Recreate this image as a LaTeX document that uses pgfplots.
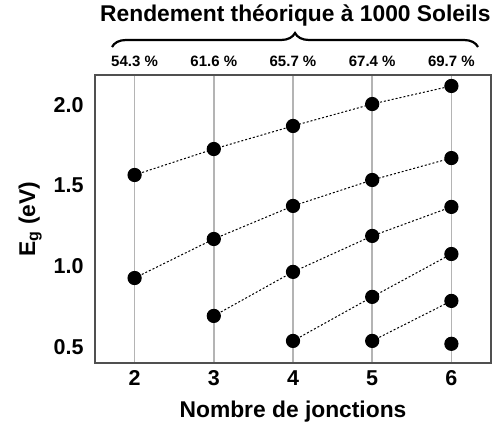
\documentclass[border=0pt]{standalone}
\usepackage{pgfplots}
\pgfplotsset{compat=1.18}
\usepackage{fontspec}
\setmainfont{Liberation Sans}
\usetikzlibrary{decorations.pathreplacing}
\definecolor{frame}{RGB}{80,80,80}
\definecolor{gridc}{RGB}{180,180,180}
\pgfplotsset{dotplot/.style={black, line width=1pt, dash pattern=on 2pt off 2pt, mark=*, mark size=6.6pt, mark options={solid, fill=black}}}
\begin{document}
\begin{tikzpicture}
\useasboundingbox (-95pt,-65pt) rectangle (399pt,363pt);
\begin{axis}[
  at={(0,0)}, anchor=south west,
  scale only axis,
  width=396pt, height=288pt,
  xmin=1.5, xmax=6.5, ymin=0.40, ymax=2.186,
  xtick={2,3,4,5,6},
  ytick={0.5,1.0,1.5,2.0},
  major tick length=0pt,
  xmajorgrids, grid style={gridc, line width=1.5pt},
  axis line style={frame, line width=1.5pt},
  /pgf/number format/assume math mode=true,
  yticklabel style={/pgf/number format/fixed, /pgf/number format/fixed zerofill, /pgf/number format/precision=1, font=\fontsize{21.5}{24}\selectfont\bfseries, xshift=-8pt},
  xticklabel style={font=\fontsize{21.5}{24}\selectfont\bfseries, yshift=-4pt},
  xlabel={Nombre de jonctions},
  ylabel={E\textsubscript{g} (eV)},
  xlabel style={font=\fontsize{22.8}{26}\selectfont\bfseries, yshift=-8pt},
  ylabel style={font=\fontsize{22.8}{26}\selectfont\bfseries, yshift=5pt},
  clip=false,
]
\addplot[dotplot] coordinates {(2,1.566) (3,1.727) (4,1.870) (5,2.006) (6,2.118)};
\addplot[dotplot] coordinates {(2,0.927) (3,1.169) (4,1.374) (5,1.535) (6,1.671)};
\addplot[dotplot] coordinates {(3,0.692) (4,0.965) (5,1.188) (6,1.368)};
\addplot[dotplot] coordinates {(4,0.537) (5,0.810) (6,1.076)};
\addplot[dotplot] coordinates {(5,0.537) (6,0.785)};
\addplot[dotplot] coordinates {(6,0.519)};
\foreach \xx/\pp in {2/54.3,3/61.6,4/65.7,5/67.4,6/69.7}{
  \edef\tmp{\noexpand\node[anchor=base, font=\noexpand\fontsize{15}{18}\noexpand\selectfont\noexpand\bfseries] at ([yshift=8pt]axis cs:\xx,2.186) {\pp\space\noexpand\%};}
  \tmp
}
\draw[decorate, decoration={brace, amplitude=14pt}, line width=2.2pt] ([yshift=28pt]axis cs:1.715,2.186) -- ([yshift=28pt]axis cs:6.336,2.186);
\node[anchor=base, font=\fontsize{22.8}{26}\selectfont\bfseries] at ([yshift=53pt]axis cs:4.03,2.186) {Rendement théorique à 1000 Soleils};
\end{axis}
\end{tikzpicture}
\end{document}
